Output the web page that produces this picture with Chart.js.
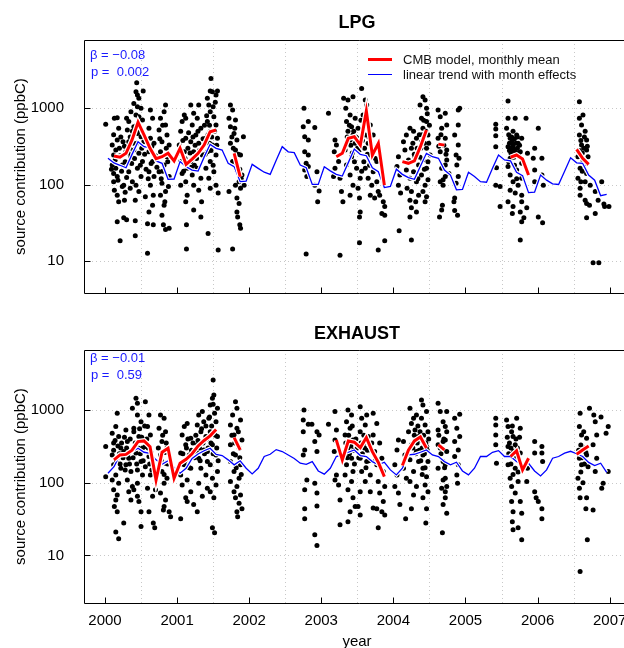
<!DOCTYPE html>
<html>
<head>
<meta charset="utf-8">
<script src="https://cdn.jsdelivr.net/npm/chart.js@4.4.1/dist/chart.umd.min.js"></script>
<style>
  html, body { margin: 0; padding: 0; background: #fff; }
  #page { position: relative; width: 624px; height: 648px; overflow: hidden;
          font-family: "Liberation Sans", Arial, sans-serif; color: #000; }
  canvas { position: absolute; left: 0; }
  .t { position: absolute; line-height: 1; white-space: pre; }
  .title { left: 84px; width: 546px; text-align: center; font-size: 18px; font-weight: bold; }
  .ylab { width: 300px; left: -131px; text-align: center; font-size: 15px; transform: rotate(-90deg); }
  .stat { color: #1a1aff; font-size: 13px; }
  .leg { font-size: 13px; color: #111; }
  .swatch { position: absolute; left: 368px; width: 24px; height: 0; }
</style>
</head>
<body>
<div id="page">
  <canvas id="lpgChart" width="634" height="310" style="top:0"></canvas>
  <canvas id="exhChart" width="634" height="338" style="top:310px"></canvas>

  <div class="t title" style="top:13px">LPG</div>
  <div class="t title" style="top:324px">EXHAUST</div>
  <div class="t ylab" style="top:159px">source contribution (ppbC)</div>
  <div class="t ylab" style="top:469px">source contribution (ppbC)</div>

  <div class="t stat" style="left:90px;top:48px">β = −0.08</div>
  <div class="t stat" style="left:91px;top:65px">p =  0.002</div>
  <div class="t stat" style="left:90px;top:351px">β = −0.01</div>
  <div class="t stat" style="left:91px;top:368px">p =  0.59</div>

  <div class="swatch" style="top:58px;border-top:3px solid #ff0000"></div>
  <div class="t leg" style="left:403px;top:53px">CMB model, monthly mean</div>
  <div class="swatch" style="top:74px;border-top:1px solid #0000ff"></div>
  <div class="t leg" style="left:403px;top:68px">linear trend with month effects</div>

  <div class="t" style="left:84px;width:546px;text-align:center;top:633px;font-size:15px">year</div>
</div>

<script>
// ---- axes ----
const yearTicks = [2000, 2001, 2002, 2003, 2004, 2005, 2006, 2007];
const gridYears = [2000.5, 2001.5, 2002.5, 2003.5, 2004.5, 2005.5, 2006.5];
const yTicks = [10, 100, 1000];
const trendYears = [2000, 2001, 2002, 2003, 2004, 2005, 2006];

// ---- LPG: monthly values Jan..Dec per year ----
const lpgTrend = [
  222, 193, 180, 167, 250, 366, 315, 305, 205, 191, 118, 119,
  201, 173, 156, 151, 230, 338, 300, 285, 191, 173, 110, 112,
  185, 164, 146, 137, 210, 315, 270, 263, 181, 167, 101, 101,
  172, 152, 137, 130, 195, 294, 250, 240, 167, 148,  92,  95,
  160, 137, 124, 118, 175, 258, 233, 222, 156, 134,  86,  87,
  146, 128, 110, 108, 165, 245, 211, 205, 146, 132,  79,  80,
  134, 115, 103, 101, 150, 226, 194, 191, 134, 115,  72,  75
];
const lpgMean = [
  null, 238, 229, 258, 386, 656, 448, 300, 220, 233, 258, 205,
  300, 185, 217, 258, 331, 494, 520, null, null, 258, 128, null,
  null, null, null, null, null, null, null, null, null, null, null, null,
  null, null, 233, 258, 405, 425, 331, 922, 245, 349, 99, null,
  null, 201, 191, 205, 315, 520, null, 340, 330, null, null, null,
  null, null, null, null, null, null, null, 229, 245, 217, 134, null,
  null, null, null, null, null, null, 291, 222, 185, null, null, null
];
const lpgPoints = [
  [2000.01,620],[2000.17,750],[2000.13,740],[2000.19,550],[2000.12,450],[2000.17,386],[2000.10,331],[2000.15,285],
  [2000.12,245],[2000.10,181],[2000.15,165],[2000.12,140],[2000.17,128],[2000.12,110],[2000.13,85],[2000.17,73],
  [2000.19,60],[2000.17,33],[2000.21,18.5],[2000.26,37],[2000.30,35],[2000.27,63],[2000.26,99],[2000.24,181],
  [2000.29,270],[2000.25,366],[2000.31,520],[2000.30,740],[2000.36,900],[2000.33,670],[2000.38,500],[2000.33,366],
  [2000.36,233],[2000.33,148],[2000.38,110],[2000.35,90],[2000.43,1650],[2000.45,1493],[2000.47,1350],[2000.40,1160],
  [2000.45,1050],[2000.50,1000],[2000.43,818],[2000.47,775],[2000.52,704],[2000.40,575],[2000.45,470],[2000.50,425],
  [2000.54,366],[2000.40,285],[2000.47,258],[2000.52,201],[2000.45,165],[2000.50,128],[2000.43,99],[2000.47,82],
  [2000.42,63],[2000.42,34],[2000.42,21.5],[2000.53,1680],[2000.44,2160],[2000.59,31],[2000.61,44],[2000.56,70],
  [2000.59,12.7],[2000.63,950],[2000.66,740],[2000.61,550],[2000.63,405],[2000.68,350],[2000.61,270],[2000.66,201],
  [2000.61,148],[2000.68,128],[2000.63,99],[2000.67,73],[2000.66,54],[2000.67,30],[2000.79,40],[2000.81,30],
  [2000.84,26],[2000.89,27],[2000.82,54],[2000.84,1105],[2000.82,900],[2000.77,740],[2000.84,605],[2000.75,520],
  [2000.86,448],[2000.79,366],[2000.89,331],[2000.77,270],[2000.86,233],[2000.82,181],[2000.75,148],[2000.89,128],
  [2000.79,105],[2000.84,82],[2000.77,73],[2000.83,60],
  [2000.14,210],[2000.20,300],[2000.22,420],[2000.28,200],[2000.23,150],[2000.27,320],[2000.32,260],[2000.35,420],
  [2000.37,190],[2000.30,125],[2000.21,240],[2000.09,160],[2000.18,115],[2000.24,95],[2000.28,80],[2000.34,300],
  [2000.39,350],[2000.41,220],[2000.44,600],[2000.48,520],[2000.51,300],[2000.55,250],[2000.49,180],[2000.44,350],
  [2000.57,160],[2000.60,120],[2000.64,190],[2000.65,320],[2000.70,240],[2000.72,170],[2000.76,400],[2000.80,600],
  [2000.85,300],[2000.87,200],[2000.80,150],[2000.88,95],[2000.78,120],
  [2001.10,818],[2001.12,740],[2001.07,670],[2001.05,500],[2001.12,405],[2001.03,331],[2001.10,270],[2001.05,201],
  [2001.14,165],[2001.07,140],[2001.12,110],[2001.05,99],[2001.14,73],[2001.12,60],[2001.23,47],[2001.33,38],
  [2001.34,60],[2001.13,30],[2001.13,14.5],[2001.19,1105],[2001.23,860],[2001.30,1105],[2001.28,740],[2001.21,605],
  [2001.33,550],[2001.26,448],[2001.19,366],[2001.30,350],[2001.23,270],[2001.35,245],[2001.19,201],[2001.28,165],
  [2001.21,134],[2001.33,122],[2001.23,99],[2001.30,85],[2001.42,1350],[2001.44,1105],[2001.49,1650],[2001.54,1490],
  [2001.46,900],[2001.51,775],[2001.42,670],[2001.54,605],[2001.46,500],[2001.40,405],[2001.56,405],[2001.49,331],
  [2001.42,270],[2001.54,245],[2001.46,201],[2001.40,165],[2001.51,148],[2001.44,122],[2001.54,99],[2001.46,90],
  [2001.43,23],[2001.57,78],[2001.57,14],[2001.46,1680],[2001.47,2460],[2001.56,1680],
  [2001.04,260],[2001.08,380],[2001.11,220],[2001.15,300],[2001.16,480],[2001.09,150],[2001.18,260],[2001.20,170],
  [2001.22,420],[2001.25,330],[2001.27,220],[2001.29,500],[2001.31,280],[2001.24,180],[2001.36,400],[2001.38,600],
  [2001.41,800],[2001.45,600],[2001.48,420],[2001.50,1050],[2001.52,500],[2001.55,330],[2001.47,280],[2001.50,180],
  [2001.43,450],[2001.39,250],[2001.53,1200],[2001.45,350],
  [2001.74,1105],[2001.77,950],[2001.72,740],[2001.81,704],[2001.74,575],[2001.79,470],[2001.83,386],[2001.74,350],
  [2001.81,285],[2001.88,245],[2001.77,201],[2001.83,156],[2001.90,134],[2001.86,110],[2001.81,99],[2001.88,90],
  [2001.72,82],[2001.83,67],[2001.86,57],[2001.83,44],[2001.84,38],[2001.87,30],[2001.88,27],[2001.77,14.5],
  [2001.92,425],[2001.93,99],[2001.76,420],[2001.80,550],[2001.85,250],[2001.78,300],[2001.82,180],[2001.87,160],
  [2001.89,120],
  [2002.76,1000],[2002.75,575],[2002.82,670],[2002.91,560],[2002.77,425],[2002.82,386],[2002.77,270],[2002.82,245],
  [2002.79,191],[2002.82,173],[2002.77,156],[2002.80,128],[2002.94,148],[2002.91,99],[2002.97,83],[2002.95,60],
  [2002.79,12.5],[2003.10,860],[2003.26,12],
  [2003.19,386],[2003.21,331],[2003.18,270],[2003.24,201],[2003.19,165],[2003.17,128],[2003.26,122],[2003.28,82],
  [2003.30,60],[2003.31,1350],[2003.37,1284],[2003.44,1420],[2003.34,1000],[2003.40,818],[2003.47,740],[2003.35,670],
  [2003.42,575],[2003.37,500],[2003.44,448],[2003.51,550],[2003.40,386],[2003.47,350],[2003.33,285],[2003.53,285],
  [2003.42,233],[2003.35,181],[2003.49,165],[2003.40,134],[2003.54,122],[2003.44,99],[2003.51,90],[2003.40,73],
  [2003.53,67],[2003.54,44],[2003.53,38],[2003.53,17.5],[2003.56,1820],[2003.61,1284],[2003.63,1105],[2003.58,818],
  [2003.68,605],[2003.61,448],[2003.72,448],[2003.65,350],[2003.74,300],[2003.68,245],[2003.77,201],[2003.61,165],
  [2003.72,148],[2003.65,122],[2003.77,110],[2003.70,99],[2003.79,82],[2003.74,67],[2003.81,73],[2003.86,60],
  [2003.88,52],[2003.84,42],[2003.88,40],[2003.79,14],[2003.88,18.5],[2003.68,73],
  [2003.36,420],[2003.39,600],[2003.41,330],[2003.45,500],[2003.48,420],[2003.50,300],[2003.43,260],[2003.46,200],
  [2003.52,400],[2003.55,700],[2003.57,380],[2003.60,300],[2003.62,600],[2003.64,250],[2003.66,420],[2003.59,200],
  [2003.56,150],[2003.67,180],[2003.71,300],[2003.75,220],
  [2004.07,233],[2004.05,173],[2004.09,134],[2004.07,99],[2004.10,78],[2004.08,25],[2004.14,366],[2004.18,448],
  [2004.16,285],[2004.21,211],[2004.18,156],[2004.23,122],[2004.19,90],[2004.23,63],[2004.25,50],[2004.23,38],
  [2004.25,19],[2004.23,550],[2004.28,500],[2004.32,405],[2004.25,300],[2004.30,233],[2004.35,181],[2004.28,148],
  [2004.32,110],[2004.25,82],[2004.35,73],[2004.31,60],[2004.32,44],[2004.37,1105],[2004.41,1420],[2004.44,1284],
  [2004.46,1000],[2004.39,740],[2004.46,670],[2004.41,550],[2004.48,448],[2004.39,366],[2004.46,300],[2004.51,245],
  [2004.41,211],[2004.46,165],[2004.39,134],[2004.48,116],[2004.44,99],[2004.41,82],[2004.46,70],[2004.44,60],
  [2004.33,300],[2004.36,450],[2004.38,300],[2004.40,450],[2004.42,700],[2004.43,350],[2004.45,500],[2004.47,850],
  [2004.49,350],[2004.37,230],[2004.43,160],[2004.48,200],[2004.50,600],[2004.34,120],[2004.29,250],[2004.27,350],
  [2004.62,950],[2004.65,775],[2004.72,860],[2004.74,605],[2004.67,550],[2004.62,405],[2004.72,405],[2004.65,270],
  [2004.74,211],[2004.67,165],[2004.72,128],[2004.65,110],[2004.69,99],[2004.68,54],[2004.67,47],[2004.64,38],
  [2004.74,285],[2004.72,181],[2004.77,140],[2004.69,116],[2004.63,320],[2004.66,450],[2004.70,330],[2004.73,250],
  [2004.90,950],[2004.92,1000],[2004.90,605],[2004.85,448],[2004.90,331],[2004.87,245],[2004.91,222],[2004.88,181],
  [2004.90,128],[2004.87,105],[2004.85,67],[2004.84,60],[2004.85,46],[2004.89,40],
  [2005.42,617],[2005.42,535],[2005.42,438],[2005.42,315],[2005.43,167],[2005.42,99],[2005.48,95],[2005.48,52],
  [2005.59,1250],[2005.59,740],[2005.57,550],[2005.62,405],[2005.66,500],[2005.69,740],[2005.71,448],[2005.64,350],
  [2005.73,350],[2005.59,315],[2005.78,405],[2005.69,285],[2005.76,270],[2005.62,222],[2005.78,191],[2005.59,173],
  [2005.71,156],[2005.62,134],[2005.78,122],[2005.66,110],[2005.73,99],[2005.62,85],[2005.69,78],[2005.78,73],
  [2005.59,60],[2005.66,52],[2005.78,60],[2005.65,42],[2005.76,44],[2005.85,50],[2005.81,37],[2005.78,33],
  [2005.76,19],[2005.84,740],[2005.86,258],[2005.96,300],[2006.01,550],[2005.94,222],[2006.06,222],[2005.96,156],
  [2006.06,134],[2005.96,110],[2006.08,99],[2006.01,38],[2006.07,32],
  [2005.60,450],[2005.61,350],[2005.63,300],[2005.64,420],[2005.65,380],[2005.66,320],[2005.67,280],[2005.68,400],
  [2005.70,350],[2005.72,300],[2005.70,250],[2005.74,260],[2005.63,260],[2005.61,280],[2005.67,230],[2005.72,420],
  [2005.75,330],[2005.60,200],[2005.68,180],[2005.71,120],
  [2006.58,1220],[2006.58,740],[2006.63,818],[2006.61,605],[2006.66,500],[2006.58,448],[2006.68,386],[2006.61,331],
  [2006.68,285],[2006.56,233],[2006.63,201],[2006.70,233],[2006.59,165],[2006.68,140],[2006.56,122],[2006.66,110],
  [2006.59,90],[2006.73,99],[2006.59,73],[2006.66,63],[2006.80,82],[2006.89,110],[2006.84,63],[2006.80,42],
  [2006.68,37],[2006.92,56],[2006.93,52],[2006.99,52],[2006.77,9.6],[2006.85,9.6],[2006.68,57],[2006.72,54],
  [2006.60,380],[2006.62,260],[2006.64,300],[2006.65,420],[2006.67,190],[2006.62,150],[2006.69,320],[2006.58,280],
  [2006.60,110]
];

// ---- EXHAUST ----
const exhTrend = [
  135, 166, 241, 246, 267, 298, 262, 254, 206, 179, 200, 162,
  135, 158, 215, 248, 275, 298, 245, 236, 206, 176, 200, 158,
  132, 158, 229, 246, 285, 268, 240, 215, 185, 179, 195, 145,
  131, 158, 229, 241, 262, 282, 236, 229, 195, 176, 191, 150,
  128, 158, 241, 246, 262, 282, 241, 229, 195, 176, 191, 145,
  128, 158, 229, 229, 262, 276, 229, 229, 195, 172, 185, 145,
  124, 150, 217, 229, 255, 270, 250, 229, 190, 172, 185, 139
];
const exhMean = [
  null, 206, 241, 245, 280, 367, 375, 313, 109, 262, 298, 115,
  185, 210, 250, 320, 380, 440, 540, null, null, 417, 282, null,
  null, null, null, null, null, null, null, null, null, null, null, null,
  null, null, 387, 206, 375, 360, 304, 417, 267, 190, 121, null,
  null, 172, 280, 375, 425, 300, null, 330, 282, null, null, null,
  null, null, null, null, null, null, null, 229, 274, 150, 217, null,
  null, null, null, null, null, null, 246, 282, 320, null, null, null
];
const exhPoints = [
  [2000.01,314],[2000.01,121],[2000.17,900],[2000.15,590],[2000.10,478],[2000.19,430],[2000.12,350],[2000.22,300],
  [2000.10,241],[2000.17,217],[2000.12,176],[2000.22,158],[2000.15,128],[2000.10,109],[2000.19,98],[2000.12,80],
  [2000.17,68],[2000.15,58],[2000.13,47],[2000.17,40],[2000.15,21],[2000.19,17],[2000.26,28],[2000.29,531],
  [2000.31,367],[2000.26,268],[2000.33,217],[2000.29,176],[2000.36,142],[2000.31,109],[2000.38,89],[2000.33,75],
  [2000.36,58],[2000.40,560],[2000.43,1450],[2000.45,1235],[2000.38,1055],[2000.45,854],[2000.50,690],[2000.40,500],
  [2000.47,430],[2000.52,300],[2000.43,255],[2000.50,195],[2000.45,150],[2000.52,128],[2000.45,98],[2000.40,80],
  [2000.45,65],[2000.47,55],[2000.50,40],[2000.50,25],[2000.56,1300],[2000.61,854],[2000.59,590],[2000.63,454],
  [2000.56,314],[2000.61,229],[2000.56,166],[2000.63,128],[2000.59,84],[2000.66,65],[2000.61,40],[2000.67,28],
  [2000.69,24],[2000.77,854],[2000.82,770],[2000.75,560],[2000.84,500],[2000.79,367],[2000.86,300],[2000.77,241],
  [2000.84,185],[2000.79,142],[2000.86,115],[2000.82,98],[2000.77,72],[2000.84,58],[2000.82,47],[2000.81,42],
  [2000.89,40],[2000.91,34],
  [2000.12,280],[2000.14,380],[2000.16,200],[2000.18,320],[2000.20,250],[2000.21,180],[2000.23,350],[2000.25,220],
  [2000.27,420],[2000.28,150],[2000.30,300],[2000.32,250],[2000.34,180],[2000.35,400],[2000.37,280],[2000.39,220],
  [2000.42,350],[2000.44,180],[2000.46,300],[2000.48,550],[2000.49,250],[2000.51,420],[2000.53,200],[2000.55,600],
  [2000.58,400],[2000.60,300],[2000.62,180],[2000.64,260],[2000.65,150],[2000.70,80],[2000.74,300],[2000.78,200],
  [2000.80,450],[2000.83,260],[2000.85,350],[2000.87,180],[2000.82,130],
  [2001.05,32],[2001.10,590],[2001.14,650],[2001.07,454],[2001.19,409],[2001.12,331],[2001.05,255],[2001.17,241],
  [2001.10,176],[2001.19,158],[2001.05,128],[2001.14,109],[2001.07,93],[2001.19,75],[2001.12,62],[2001.14,55],
  [2001.23,50],[2001.28,40],[2001.30,854],[2001.35,950],[2001.28,622],[2001.37,690],[2001.33,500],[2001.40,430],
  [2001.28,331],[2001.37,282],[2001.30,217],[2001.42,195],[2001.33,158],[2001.40,128],[2001.30,98],[2001.42,84],
  [2001.35,65],[2001.46,1171],[2001.51,1600],[2001.49,1450],[2001.56,1055],[2001.44,770],[2001.54,690],[2001.46,500],
  [2001.56,430],[2001.49,331],[2001.42,268],[2001.54,241],[2001.46,176],[2001.56,142],[2001.49,115],[2001.54,93],
  [2001.46,75],[2001.51,62],[2001.50,2580],[2001.49,24],[2001.52,20.5],
  [2001.06,180],[2001.08,250],[2001.11,200],[2001.13,300],[2001.15,400],[2001.17,160],[2001.20,280],[2001.22,350],
  [2001.24,220],[2001.26,450],[2001.27,260],[2001.29,380],[2001.31,300],[2001.32,200],[2001.34,550],[2001.36,350],
  [2001.38,250],[2001.40,600],[2001.41,400],[2001.43,300],[2001.45,800],[2001.47,350],[2001.48,600],[2001.50,250],
  [2001.52,900],[2001.53,450],[2001.55,300],[2001.57,200],[2001.50,1200],
  [2001.81,1300],[2001.83,1055],[2001.77,854],[2001.88,729],[2001.74,622],[2001.83,560],[2001.79,454],[2001.90,387],
  [2001.74,331],[2001.86,300],[2001.81,241],[2001.74,195],[2001.88,176],[2001.79,142],[2001.86,115],[2001.74,104],
  [2001.83,89],[2001.79,75],[2001.88,68],[2001.81,62],[2001.86,52],[2001.90,44],[2001.83,40],[2001.84,34],
  [2001.76,450],[2001.78,250],[2001.80,350],[2001.82,160],[2001.85,500],[2001.87,220],[2001.89,130],
  [2002.76,1000],[2002.75,729],[2002.75,500],[2002.82,636],[2002.87,636],[2002.77,282],[2002.75,241],[2002.80,109],
  [2002.77,80],[2002.77,44],[2002.77,32],[2002.94,500],[2002.91,367],[2002.94,268],[2002.91,98],[2002.94,72],
  [2002.94,48],[2002.91,19.2],[2002.94,13.7],[2002.97,454],
  [2003.10,636],[2003.19,950],[2003.21,531],[2003.19,387],[2003.18,268],[2003.21,128],[2003.19,109],[2003.24,93],
  [2003.26,58],[2003.26,26.4],[2003.37,1000],[2003.42,854],[2003.35,690],[2003.40,560],[2003.33,454],[2003.44,387],
  [2003.37,300],[2003.30,255],[2003.42,217],[2003.35,176],[2003.44,142],[2003.33,128],[2003.42,104],[2003.37,80],
  [2003.44,62],[2003.40,40],[2003.37,29],[2003.47,47],[2003.54,1110],[2003.63,854],[2003.56,770],[2003.61,622],
  [2003.54,500],[2003.65,430],[2003.58,331],[2003.68,282],[2003.54,217],[2003.63,195],[2003.56,142],[2003.68,128],
  [2003.61,104],[2003.54,75],[2003.68,75],[2003.51,47],[2003.54,36],[2003.72,900],[2003.77,650],[2003.72,454],
  [2003.81,350],[2003.74,268],[2003.84,217],[2003.77,176],[2003.86,142],[2003.79,104],[2003.88,89],[2003.81,72],
  [2003.86,55],[2003.77,44],[2003.84,40],[2003.88,36],[2003.79,24],[2003.72,45],
  [2003.34,350],[2003.36,220],[2003.38,450],[2003.39,250],[2003.41,320],[2003.43,600],[2003.45,280],[2003.46,180],
  [2003.48,400],[2003.50,300],[2003.52,220],[2003.55,350],[2003.57,250],[2003.59,450],[2003.60,300],[2003.62,160],
  [2003.64,280],[2003.66,200],[2003.70,350],[2003.75,200],
  [2004.07,387],[2004.05,282],[2004.02,176],[2004.05,128],[2004.02,89],[2004.07,72],[2004.09,50],[2004.14,367],
  [2004.16,241],[2004.14,158],[2004.18,115],[2004.17,32],[2004.23,1055],[2004.25,650],[2004.21,500],[2004.28,770],
  [2004.32,854],[2004.30,531],[2004.35,430],[2004.25,331],[2004.32,268],[2004.23,206],[2004.35,195],[2004.28,142],
  [2004.23,104],[2004.32,89],[2004.28,68],[2004.25,44],[2004.39,1372],[2004.41,1171],[2004.46,950],[2004.39,770],
  [2004.44,622],[2004.48,500],[2004.39,387],[2004.46,314],[2004.41,241],[2004.48,195],[2004.41,158],[2004.46,121],
  [2004.44,93],[2004.48,75],[2004.41,62],[2004.46,44],[2004.45,28],
  [2004.27,300],[2004.29,450],[2004.31,250],[2004.33,350],[2004.34,600],[2004.36,280],[2004.37,500],[2004.38,200],
  [2004.40,300],[2004.42,450],[2004.43,250],[2004.45,350],[2004.47,280],[2004.49,400],[2004.44,160],[2004.40,130],
  [2004.62,1235],[2004.65,950],[2004.69,690],[2004.62,531],[2004.72,387],[2004.65,300],[2004.69,195],[2004.62,158],
  [2004.72,115],[2004.67,84],[2004.72,62],[2004.69,50],[2004.68,20.5],[2004.62,331],[2004.74,950],[2004.72,590],
  [2004.74,500],[2004.69,367],[2004.74,268],[2004.72,176],[2004.69,109],[2004.74,89],[2004.72,75],[2004.74,38],
  [2004.63,450],[2004.66,250],[2004.70,400],[2004.71,160],
  [2004.85,770],[2004.92,873],[2004.88,560],[2004.92,430],[2004.85,367],[2004.90,282],[2004.85,229],[2004.90,176],
  [2004.88,128],[2004.89,98],
  [2005.42,770],[2005.42,622],[2005.42,454],[2005.42,331],[2005.43,185],[2005.57,729],[2005.59,590],[2005.64,500],
  [2005.71,770],[2005.66,430],[2005.76,560],[2005.59,314],[2005.69,331],[2005.64,241],[2005.76,255],[2005.59,176],
  [2005.69,158],[2005.62,115],[2005.73,104],[2005.64,89],[2005.69,72],[2005.64,55],[2005.76,55],[2005.66,40],
  [2005.78,38],[2005.65,29],[2005.73,24],[2005.66,22.5],[2005.78,16.4],[2005.85,104],[2005.86,158],[2005.96,367],
  [2005.96,255],[2005.96,75],[2005.98,62],[2006.06,314],[2006.06,255],[2006.07,195],[2006.06,44],[2006.06,32],
  [2006.01,55],
  [2005.58,420],[2005.60,250],[2005.61,350],[2005.63,300],[2005.65,600],[2005.67,270],[2005.68,220],[2005.70,400],
  [2005.72,300],[2005.74,200],[2005.63,180],[2005.66,130],[2005.73,140],[2005.75,420],
  [2006.59,900],[2006.58,590],[2006.61,454],[2006.68,409],[2006.66,300],[2006.58,217],[2006.68,241],[2006.61,176],
  [2006.70,166],[2006.56,115],[2006.58,84],[2006.59,62],[2006.68,62],[2006.67,44],[2006.69,16.4],[2006.59,6],
  [2006.72,1055],[2006.78,854],[2006.80,690],[2006.82,454],[2006.77,331],[2006.82,217],[2006.80,142],[2006.77,42],
  [2006.88,800],[2006.98,590],[2006.95,478],[2006.91,98],[2006.89,84],[2006.98,142],
  [2006.57,280],[2006.60,330],[2006.62,220],[2006.64,500],[2006.65,180],[2006.67,260],[2006.60,140],[2006.63,100]
];

// month midpoints for the monthly series
const monthX = [];
trendYears.forEach(yr => { for (let m = 0; m < 12; m++) monthX.push(yr + (m + 0.5) / 12); });

const frame = {
  id: "frame",
  beforeDatasetsDraw(chart) {
    const { ctx, chartArea: a, scales: { x, y } } = chart;
    ctx.save();
    ctx.strokeStyle = "#c8c8c8";
    ctx.lineWidth = 1;
    ctx.setLineDash([1, 3]);
    ctx.beginPath();
    gridYears.forEach(v => {
      const px = Math.round(x.getPixelForValue(v)) + 0.5;
      ctx.moveTo(px, a.top); ctx.lineTo(px, a.bottom);
    });
    yTicks.forEach(v => {
      const py = Math.round(y.getPixelForValue(v)) + 0.5;
      ctx.moveTo(a.left, py); ctx.lineTo(a.right, py);
    });
    ctx.stroke();
    ctx.restore();
  },
  afterDatasetsDraw(chart) {
    const { ctx, chartArea: a, scales: { x, y } } = chart;
    ctx.save();
    ctx.strokeStyle = "#000";
    ctx.lineWidth = 1;
    ctx.beginPath();
    const l = Math.round(a.left) + 0.5, t = Math.round(a.top) + 0.5, b = Math.round(a.bottom) + 0.5;
    ctx.moveTo(a.right + 5, t); ctx.lineTo(l, t); ctx.lineTo(l, b); ctx.lineTo(a.right + 5, b);
    yearTicks.forEach(v => {
      const px = Math.round(x.getPixelForValue(v)) + 0.5;
      ctx.moveTo(px, b); ctx.lineTo(px, b - 6);
    });
    yTicks.forEach(v => {
      const py = Math.round(y.getPixelForValue(v)) + 0.5;
      ctx.moveTo(l, py); ctx.lineTo(l + 6, py);
    });
    ctx.stroke();
    ctx.restore();
  }
};

function makePanel(canvasId, points, trend, mean, yMin, yMax, showYears) {
  const pts = points.map(([px, py]) => ({ x: px, y: py }));
  const tr = trend.map((v, i) => ({ x: monthX[i], y: v }));
  const mn = mean.map((v, i) => ({ x: monthX[i], y: v }));
  return new Chart(document.getElementById(canvasId), {
    type: "scatter",
    data: {
      datasets: [
        { data: pts, pointRadius: 2.5, pointBackgroundColor: "#000", pointBorderWidth: 0, showLine: false, order: 5 },
        { data: tr, showLine: true, borderColor: "#fff", borderWidth: 3.5, pointRadius: 0, order: 4 },
        { data: tr, showLine: true, borderColor: "#0000ff", borderWidth: 1.3, pointRadius: 0, order: 3 },
        { data: mn, showLine: true, spanGaps: false, borderColor: "#fff", borderWidth: 5.5, pointRadius: 0, order: 2 },
        { data: mn, showLine: true, spanGaps: false, borderColor: "#ff0000", borderWidth: 3, pointRadius: 0, order: 1 },
      ],
    },
    options: {
      responsive: false,
      animation: false,
      events: [],
      layout: { padding: { top: 40, left: 0, right: 4, bottom: 0 } },
      plugins: { legend: { display: false }, tooltip: { enabled: false } },
      scales: {
        x: {
          type: "linear",
          min: 1999.709,
          max: 2007.282,
          grid: { display: false, drawTicks: false, tickLength: 0 },
          border: { display: false },
          afterBuildTicks: s => { s.ticks = yearTicks.map(v => ({ value: v })); },
          afterFit: s => { s.height = showYears ? 45 : 17; s.paddingLeft = 0; s.paddingRight = 0; },
          ticks: {
            display: showYears,
            padding: 9,
            color: "#000",
            font: { family: "Liberation Sans", size: 15 },
            callback: v => String(v),
            maxRotation: 0,
            autoSkip: false,
          },
        },
        y: {
          type: "logarithmic",
          min: yMin,
          max: yMax,
          grid: { display: false, drawTicks: false, tickLength: 0 },
          border: { display: false },
          afterBuildTicks: s => { s.ticks = yTicks.map(v => ({ value: v })); },
          afterFit: s => { s.width = 84; s.paddingTop = 0; s.paddingBottom = 0; },
          ticks: {
            padding: 20,
            color: "#000",
            font: { family: "Liberation Sans", size: 15 },
            callback: v => String(v),
          },
        },
      },
    },
    plugins: [frame],
  });
}

makePanel("lpgChart", lpgPoints, lpgTrend, lpgMean, 3.85, 7816, false);
makePanel("exhChart", exhPoints, exhTrend, exhMean, 2.222, 6662, true);
</script>
</body>
</html>
